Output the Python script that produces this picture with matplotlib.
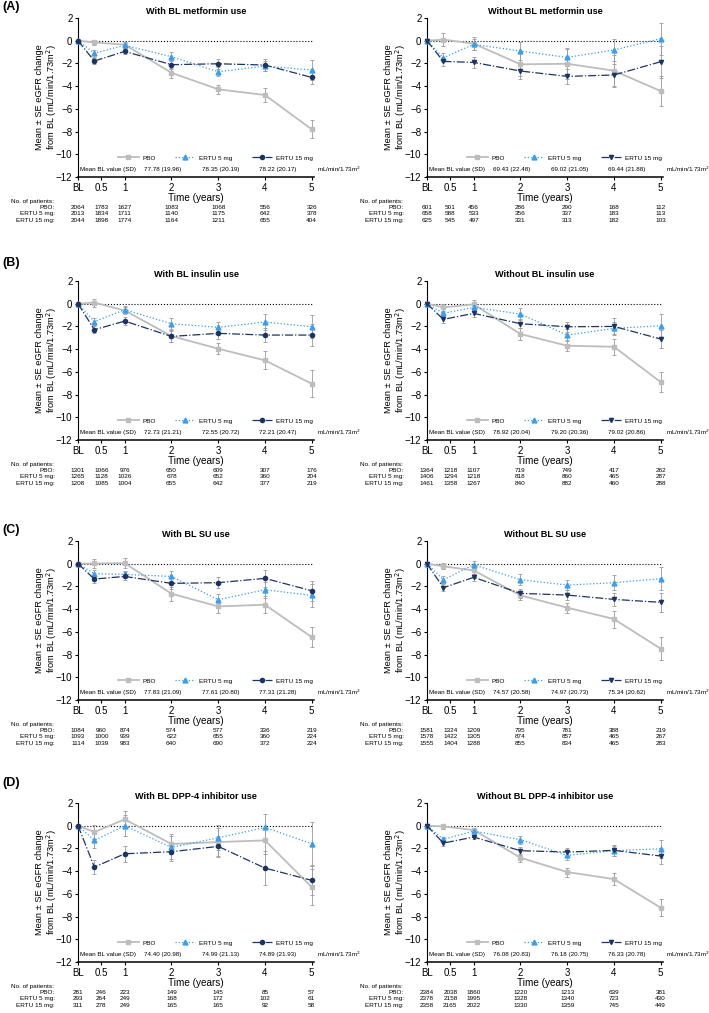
import matplotlib
matplotlib.use("Agg")
import matplotlib.pyplot as plt

plt.rcParams['font.family'] = ['Liberation Sans', 'DejaVu Sans']

# time points (years); first visit is week 18
times = [0, 0.35, 1, 2, 3, 4, 5]
tick_pos = [0, 0.5, 1, 2, 3, 4, 5]
tick_lab = ["BL", "0.5", "1", "2", "3", "4", "5"]
groups = ["PBO", "ERTU 5 mg", "ERTU 15 mg"]

titles = ["With BL metformin use", "Without BL metformin use",
          "With BL insulin use", "Without BL insulin use",
          "With BL SU use", "Without BL SU use",
          "With BL DPP-4 inhibitor use", "Without BL DPP-4 inhibitor use"]

# ---- (A) metformin
metw_mean = [[0, -0.15, -0.35, -2.82, -4.28, -4.78, -7.8],
             [0, -1.09, -0.41, -1.41, -2.73, -2.23, -2.58],
             [0, -1.79, -0.94, -2.11, -2.03, -2.14, -3.23]]
metw_se = [[0, 0.2, 0.2, 0.45, 0.4, 0.65, 0.8],
           [0, 0.3, 0.2, 0.4, 0.4, 0.4, 0.85],
           [0, 0.3, 0.25, 0.4, 0.45, 0.5, 0.6]]
metw_n = [[2064, 1783, 1627, 1083, 1068, 556, 326],
          [2013, 1834, 1711, 1140, 1175, 642, 378],
          [2044, 1898, 1774, 1164, 1211, 655, 404]]
metw_bl = ["77.78 (19.96)", "78.35 (20.19)", "78.22 (20.17)"]

metwo_mean = [[0, 0.1, -0.26, -2.08, -2.03, -2.64, -4.43],
              [0, -1.5, -0.32, -0.91, -1.47, -0.82, 0.18],
              [0, -1.82, -1.91, -2.67, -3.14, -3.02, -1.85]]
metwo_se = [[0, 0.55, 0.6, 1.0, 1.3, 1.4, 1.3],
            [0, 0.4, 0.5, 0.8, 0.8, 1.0, 1.4],
            [0, 0.4, 0.5, 0.7, 0.65, 1.0, 1.4]]
metwo_n = [[601, 501, 456, 286, 290, 168, 112],
           [658, 588, 533, 356, 337, 183, 113],
           [625, 545, 497, 331, 313, 182, 103]]
metwo_bl = ["69.43 (22.48)", "69.02 (21.05)", "69.44 (21.88)"]

# ---- (B) insulin
insw_mean = [[0, 0.1, -0.6, -2.85, -3.96, -4.99, -7.04],
             [0, -1.58, -0.53, -1.76, -2.08, -1.61, -2.03],
             [0, -2.29, -1.53, -2.88, -2.61, -2.76, -2.76]]
insw_se = [[0, 0.35, 0.3, 0.5, 0.5, 0.8, 1.2],
           [0, 0.3, 0.3, 0.5, 0.5, 0.7, 1.0],
           [0, 0.3, 0.35, 0.5, 0.5, 0.6, 0.95]]
insw_n = [[1301, 1066, 976, 650, 609, 307, 176],
          [1265, 1128, 1026, 678, 652, 360, 204],
          [1208, 1085, 1004, 655, 642, 377, 219]]
insw_bl = ["72.73 (21.21)", "72.55 (20.72)", "72.21 (20.47)"]

inswo_mean = [[0, -0.32, -0.06, -2.67, -3.7, -3.79, -6.9],
              [0, -0.85, -0.32, -0.91, -2.76, -2.17, -1.94],
              [0, -1.38, -0.85, -1.76, -2.03, -2.0, -3.11]]
inswo_se = [[0, 0.3, 0.4, 0.5, 0.5, 0.7, 0.85],
            [0, 0.35, 0.3, 0.5, 0.5, 0.6, 1.0],
            [0, 0.3, 0.3, 0.4, 0.45, 0.7, 0.8]]
inswo_n = [[1364, 1218, 1107, 719, 749, 417, 262],
           [1406, 1294, 1218, 818, 860, 465, 287],
           [1461, 1358, 1267, 840, 882, 460, 288]]
inswo_bl = ["78.92 (20.04)", "79.20 (20.36)", "79.02 (20.86)"]

# ---- (C) SU
suw_mean = [[0, 0.02, 0.05, -2.64, -3.76, -3.61, -6.46],
            [0, -0.88, -0.94, -1.12, -3.17, -2.29, -2.79],
            [0, -1.35, -1.12, -1.73, -1.67, -1.29, -2.38]]
suw_se = [[0, 0.4, 0.45, 0.6, 0.6, 0.75, 0.9],
          [0, 0.3, 0.3, 0.5, 0.5, 0.7, 1.0],
          [0, 0.35, 0.35, 0.5, 0.5, 0.75, 0.9]]
suw_n = [[1084, 960, 874, 574, 577, 336, 219],
         [1093, 1000, 939, 622, 655, 360, 224],
         [1114, 1039, 983, 640, 690, 372, 224]]
suw_bl = ["77.83 (21.09)", "77.61 (20.80)", "77.31 (21.28)"]

suwo_mean = [[0, -0.23, -0.59, -2.79, -3.87, -4.87, -7.48],
             [0, -1.41, -0.09, -1.41, -1.88, -1.67, -1.32],
             [0, -2.11, -1.2, -2.61, -2.76, -3.14, -3.4]]
suwo_se = [[0, 0.25, 0.3, 0.4, 0.45, 0.75, 1.0],
           [0, 0.3, 0.35, 0.5, 0.45, 0.65, 1.0],
           [0, 0.3, 0.3, 0.4, 0.45, 0.6, 0.85]]
suwo_n = [[1581, 1324, 1209, 795, 781, 388, 219],
          [1578, 1422, 1305, 874, 857, 465, 267],
          [1555, 1404, 1288, 855, 834, 465, 283]]
suwo_bl = ["74.57 (20.58)", "74.97 (20.73)", "75.34 (20.62)"]

# ---- (D) DPP-4 inhibitor
dppw_mean = [[0, -0.56, 0.56, -1.61, -1.44, -1.29, -5.4],
             [0, -1.29, 0.0, -1.91, -1.06, -0.15, -1.58],
             [0, -3.64, -2.47, -2.29, -1.82, -3.73, -4.81]]
dppw_se = [[0, 0.6, 0.7, 0.9, 1.2, 1.2, 1.6],
           [0, 0.7, 0.9, 1.0, 1.1, 1.2, 1.9],
           [0, 0.6, 0.7, 0.85, 0.9, 1.5, 1.3]]
dppw_n = [[281, 246, 223, 149, 145, 85, 57],
          [293, 264, 249, 168, 172, 102, 61],
          [311, 278, 249, 165, 165, 92, 58]]
dppw_bl = ["74.40 (20.98)", "74.99 (21.13)", "74.89 (21.93)"]

dppwo_mean = [[0, -0.06, -0.38, -2.82, -4.08, -4.7, -7.22],
              [0, -1.2, -0.47, -1.23, -2.61, -2.2, -2.03],
              [0, -1.53, -1.0, -2.2, -2.32, -2.17, -2.67]]
dppwo_se = [[0, 0.2, 0.2, 0.35, 0.4, 0.55, 0.75],
            [0, 0.25, 0.2, 0.35, 0.4, 0.45, 0.8],
            [0, 0.25, 0.2, 0.35, 0.4, 0.5, 0.7]]
dppwo_n = [[2384, 2038, 1860, 1220, 1213, 639, 381],
           [2378, 2158, 1995, 1328, 1340, 723, 430],
           [2358, 2165, 2022, 1330, 1359, 745, 449]]
dppwo_bl = ["76.08 (20.83)", "76.18 (20.75)", "76.33 (20.78)"]

panels = [(metw_mean, metw_se, metw_n, metw_bl), (metwo_mean, metwo_se, metwo_n, metwo_bl),
          (insw_mean, insw_se, insw_n, insw_bl), (inswo_mean, inswo_se, inswo_n, inswo_bl),
          (suw_mean, suw_se, suw_n, suw_bl), (suwo_mean, suwo_se, suwo_n, suwo_bl),
          (dppw_mean, dppw_se, dppw_n, dppw_bl), (dppwo_mean, dppwo_se, dppwo_n, dppwo_bl)]

colors = ['#BDBDBD', '#3A9EF0', '#1C3464']
styles = ['-', ':', '-.']
widths = [1.3, 0.9, 0.9]
msizes = [3, 3.5, 3]

W, H = 709, 1013
fig = plt.figure(figsize=(W / 100, H / 100), dpi=100)

row_bottom_px = [177, 440, 700, 962]
col_left_px = [78, 427]
ax_w, ax_h = 236, 159
letters = ["(A)", "(B)", "(C)", "(D)"]
letter_y_px = [7, 263, 530, 783]

for i, (mean, se, n, bl) in enumerate(panels):
    r, c = divmod(i, 2)
    ax = fig.add_axes([col_left_px[c] / W, 1 - row_bottom_px[r] / H, ax_w / W, ax_h / H])

    ax.hlines(0, 0, 5, colors='k', linestyles=':', lw=0.8, zorder=1)
    for g in range(3):
        mk = ['s', '^', 'o' if c == 0 else 'v'][g]
        ax.errorbar(times[1:], mean[g][1:], yerr=se[g][1:], fmt='none',
                    ecolor='#9A9A9A', elinewidth=0.6, capsize=1.5, capthick=0.6, zorder=2)
        ax.plot(times, mean[g], color=colors[g], ls=styles[g], lw=widths[g],
                marker=mk, ms=msizes[g], label=groups[g], clip_on=False, zorder=3 + g)

    ax.set_xlim(0, 5.05)
    ax.set_ylim(-12, 2)
    ax.set_yticks(range(-12, 3, 2))
    ax.set_xticks(tick_pos)
    ax.set_xticklabels(tick_lab)
    ax.tick_params(axis='both', labelsize=7, length=2.5, width=0.8, pad=1.5)
    for s in ['top', 'right']:
        ax.spines[s].set_visible(False)
    ax.spines['left'].set_linewidth(0.8)
    ax.spines['bottom'].set_linewidth(1.1)
    ax.set_xlabel("Time (years)", fontsize=7.2, labelpad=0.5)
    ax.set_ylabel("Mean ± SE eGFR change\nfrom BL (mL/min/1.73m$^2$)", fontsize=6.7,
                  labelpad=-2, linespacing=1.0)
    ax.set_title(titles[i], fontsize=6.6, fontweight='bold', pad=3)

    ax.legend(ncol=3, loc='center left', bbox_to_anchor=(0.17, 0.12), frameon=False,
              fontsize=4.6, handlelength=3.2, handletextpad=0.6, columnspacing=3.0,
              borderaxespad=0, borderpad=0)

    # mean baseline values row
    ax.text(0.05, -11.35, "Mean BL value (SD)", fontsize=4.5, va='center', ha='left')
    for x, s in zip([1.42, 2.66, 3.88], bl):
        ax.text(x, -11.35, s, fontsize=4.5, va='center', ha='left')
    ax.text(5.12, -11.35, "mL/min/1.73m$^2$", fontsize=4.5, va='center', ha='left', clip_on=False)

    # number of patients table
    ax.annotate("No. of patients:", xy=(0, 0), xycoords='axes fraction',
                xytext=(-48, -17.3), textcoords='offset points', fontsize=4.6, ha='left', va='center')
    for g in range(3):
        off = -21.6 - 5.0 * g
        ax.annotate(groups[g] + ":", xy=(0, 0), xycoords='axes fraction',
                    xytext=(-16.5, off), textcoords='offset points', fontsize=4.6,
                    ha='right', va='center')
        for x, v in zip(tick_pos, n[g]):
            ax.annotate(str(v), xy=(x, 0), xycoords=('data', 'axes fraction'),
                        xytext=(0, off), textcoords='offset points', fontsize=4.6,
                        ha='center', va='center')

for L, yp in zip(letters, letter_y_px):
    fig.text(0.003, 1 - yp / H, L, fontsize=9, fontweight='bold', va='center', ha='left')

fig.savefig("out.png", dpi=100)
